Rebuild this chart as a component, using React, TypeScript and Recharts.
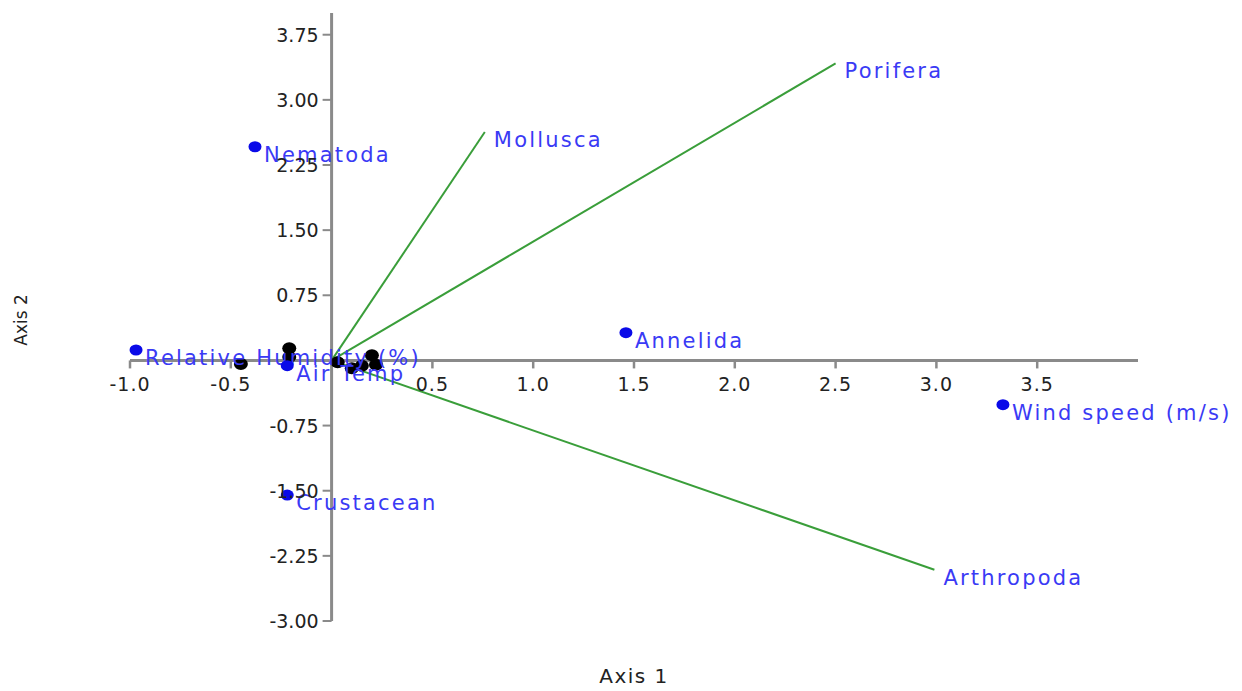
import { ScatterChart, Scatter, XAxis, YAxis, ReferenceLine } from 'recharts';

// species vectors (drawn from origin)
const speciesNames = ['Porifera', 'Mollusca', 'Arthropoda'];
const speciesX = [2.5, 0.76, 2.99];
const speciesY = [3.42, 2.63, -2.41];

// labelled points (blue)
const pointNames = ['Nematoda', 'Relative Humidity (%)', 'Air Temp', 'Annelida', 'Wind speed (m/s)', 'Crustacean'];
const pointX = [-0.38, -0.97, -0.22, 1.46, 3.33, -0.22];
const pointY = [2.46, 0.12, -0.06, 0.32, -0.51, -1.55];

// sample scores (black)
const siteX = [-0.45, -0.21, -0.21, 0.03, 0.1, 0.15, 0.2, 0.22];
const siteY = [-0.04, 0.14, 0.04, -0.02, -0.09, -0.06, 0.06, -0.05];

const xTicks = [-1.0, -0.5, 0.5, 1.0, 1.5, 2.0, 2.5, 3.0, 3.5];
const yTicks = [-3.0, -2.25, -1.5, -0.75, 0.75, 1.5, 2.25, 3.0, 3.75];

const X_DOMAIN = [-1, 4];
const Y_DOMAIN = [-3, 4];

const W = 1234;
const H = 683;
const Y_AXIS_W = 122;
const X_AXIS_H = 70;
const M = { top: 5, right: 104, bottom: 0, left: 0 };
const plotW = W - M.left - M.right - Y_AXIS_W;
const plotH = H - M.top - M.bottom - X_AXIS_H;
// pixel position of the zero lines, where the axes cross
const X0 = M.left + Y_AXIS_W + ((0 - X_DOMAIN[0]) / (X_DOMAIN[1] - X_DOMAIN[0])) * plotW;
const Y0 = M.top + ((Y_DOMAIN[1] - 0) / (Y_DOMAIN[1] - Y_DOMAIN[0])) * plotH;

const AXIS = '#8a8a8a';
const FONT = 'DejaVu Sans, Verdana, sans-serif';

const vectors = speciesNames.map((name, i) => [
    { x: 0, y: 0, name: '' },
    { x: speciesX[i], y: speciesY[i], name },
]);
const points = pointNames.map((name, i) => ({ x: pointX[i], y: pointY[i], name }));
const sites = siteX.map((x, i) => ({ x, y: siteY[i] }));

const XTick = ({ x, payload }: any) => (
    <g>
        <line x1={x} x2={x} y1={Y0} y2={Y0 + 8} stroke={AXIS} strokeWidth={2.5} />
        <text x={x} y={Y0 + 24} textAnchor="middle" dominantBaseline="central" fill="#222" fontSize={19} letterSpacing={1} fontFamily={FONT}>
            {payload.value.toFixed(1)}
        </text>
    </g>
);

const YTick = ({ y, payload }: any) => (
    <g>
        <line x1={X0 - 9} x2={X0} y1={y} y2={y} stroke={AXIS} strokeWidth={2} />
        <text x={X0 - 13} y={y} textAnchor="end" dominantBaseline="central" fill="#222" fontSize={19} fontFamily={FONT}>
            {payload.value.toFixed(2)}
        </text>
    </g>
);

const LabelText = ({ cx, cy, text }: { cx: number; cy: number; text: string }) => (
    <text x={cx + 9} y={cy + 8} dominantBaseline="central" fill="#3a3af5" fontSize={21} letterSpacing={2.2} fontFamily={FONT}>
        {text}
    </text>
);

const BlueDot = (props: any) => {
    const { cx, cy, payload } = props;
    return (
        <g>
            <ellipse cx={cx} cy={cy} rx={6.5} ry={5.5} fill="#0a0ae8" />
            <LabelText cx={cx} cy={cy} text={payload.name} />
        </g>
    );
};

const BlackDot = ({ cx, cy }: any) => <ellipse cx={cx} cy={cy} rx={7} ry={6} fill="#000" />;

const VectorEnd = (props: any) => {
    const { cx, cy, payload } = props;
    if (!payload.name) return <g />;
    return <LabelText cx={cx} cy={cy} text={payload.name} />;
};

const XTitle = ({ viewBox }: any) => (
    <text x={viewBox.x + viewBox.width / 2} y={H - 8} textAnchor="middle" fill="#222" fontSize={20} letterSpacing={1.5} fontFamily={FONT}>
        Axis 1
    </text>
);

const YTitle = ({ viewBox }: any) => {
    const cy = viewBox.y + viewBox.height / 2 + 3;
    return (
        <text x={13} y={cy} transform={`rotate(-90 13 ${cy})`} textAnchor="middle" dominantBaseline="central" fill="#222" fontSize={17} fontFamily={FONT}>
            Axis 2
        </text>
    );
};

export default function App() {
    return (
        <ScatterChart width={W} height={H} margin={M}>
            <XAxis
                type="number"
                dataKey="x"
                domain={X_DOMAIN}
                ticks={xTicks}
                height={X_AXIS_H}
                axisLine={false}
                tickLine={false}
                tick={XTick}
                interval={0}
                label={{ content: XTitle }}
            />
            <YAxis
                type="number"
                dataKey="y"
                domain={Y_DOMAIN}
                ticks={yTicks}
                width={Y_AXIS_W}
                axisLine={false}
                tickLine={false}
                tick={YTick}
                interval={0}
                label={{ content: YTitle }}
            />
            <ReferenceLine y={0} stroke={AXIS} strokeWidth={3} />
            <ReferenceLine x={0} stroke={AXIS} strokeWidth={3} />
            {vectors.map((v, i) => (
                <Scatter
                    key={speciesNames[i]}
                    data={v}
                    line={{ stroke: '#3a9e3a', strokeWidth: 2 }}
                    shape={VectorEnd}
                    isAnimationActive={false}
                />
            ))}
            <Scatter data={sites} shape={BlackDot} isAnimationActive={false} />
            <Scatter data={points} shape={BlueDot} isAnimationActive={false} />
        </ScatterChart>
    );
}
